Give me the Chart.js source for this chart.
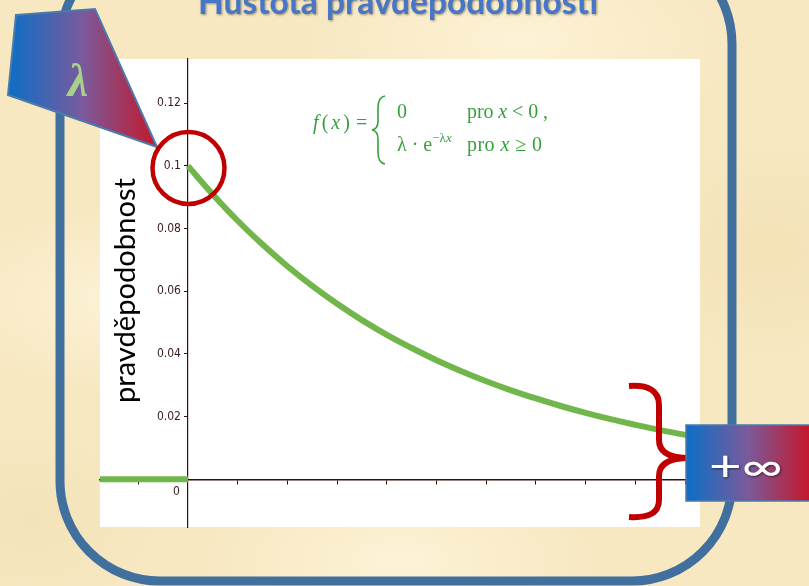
<!DOCTYPE html>
<html>
<head>
<meta charset="utf-8">
<script src="https://cdn.jsdelivr.net/npm/chart.js@4.4.1/dist/chart.umd.min.js"></script>
<style>
  html, body { margin: 0; padding: 0; }
  body {
    width: 809px; height: 586px; overflow: hidden; position: relative;
    background-color: #f7e8c2;
    background-image:
      radial-gradient(ellipse 180px 90px at 120px 300px, rgba(255,248,225,0.6), rgba(255,248,225,0)),
      radial-gradient(ellipse 220px 100px at 520px 40px, rgba(255,246,220,0.7), rgba(255,246,220,0)),
      radial-gradient(ellipse 200px 80px at 400px 560px, rgba(255,247,222,0.7), rgba(255,247,222,0)),
      radial-gradient(ellipse 160px 120px at 770px 250px, rgba(240,220,170,0.5), rgba(240,220,170,0)),
      radial-gradient(ellipse 150px 100px at 30px 520px, rgba(240,222,175,0.5), rgba(240,222,175,0));
  }
  svg, canvas { position: absolute; left: 0; top: 0; }
</style>
</head>
<body>
<svg width="809" height="586">
  <rect x="60" y="-56" width="672" height="637" rx="100" ry="100" fill="none" stroke="#41709e" stroke-width="9"/>
</svg>
<canvas id="graf" width="809" height="586"></canvas>
<svg width="809" height="586" font-family="Lato, 'Open Sans', sans-serif">
  <defs>
    <linearGradient id="lamGrad" gradientUnits="userSpaceOnUse" x1="8" y1="0" x2="157" y2="0">
      <stop offset="0" stop-color="#0b6fc6"/>
      <stop offset="0.5" stop-color="#7a5a9c"/>
      <stop offset="1" stop-color="#c4182b"/>
    </linearGradient>
    <linearGradient id="infGrad" gradientUnits="userSpaceOnUse" x1="686" y1="0" x2="809" y2="0">
      <stop offset="0" stop-color="#0b6fc6"/>
      <stop offset="0.5" stop-color="#7a5a9c"/>
      <stop offset="1" stop-color="#c4182b"/>
    </linearGradient>
  </defs>

  <!-- nadpis -->
  <text x="198" y="13.5" font-size="34" font-weight="700" fill="#4775c8" textLength="400" lengthAdjust="spacingAndGlyphs"
        style="filter: drop-shadow(1px 1px 1px rgba(0,0,0,0.4))">Hustota pravděpodobnosti</text>

  <!-- lambda -->
  <polygon points="16,15 95,9 157,147 8,95" fill="url(#lamGrad)" stroke="#4b7bab" stroke-width="2"/>
  <text x="78" y="96" font-size="46" font-family="'Liberation Serif', serif" font-weight="700" font-style="italic"
        fill="#a9d18e" text-anchor="middle">λ</text>
  <circle cx="188.5" cy="168" r="36" fill="none" stroke="#c00000" stroke-width="4.5"/>

  <!-- popisek osy y -->
  <text transform="translate(135,403) rotate(-90)" font-size="28" fill="#000" textLength="225" lengthAdjust="spacingAndGlyphs">pravděpodobnost</text>

  <!-- vzorec -->
  <g fill="#37a03c" font-family="'Liberation Serif', serif" font-size="20">
    <text x="313" y="129" textLength="37"><tspan font-style="italic">f</tspan>(<tspan font-style="italic">x</tspan>)</text>
    <text x="356" y="129">=</text>
    <path d="M385,96 Q378,97 378,108 L378,121 Q378,129 372,130 Q378,131 378,139 L378,152 Q378,163 385,164" fill="none" stroke="#37a03c" stroke-width="1.6"/>
    <text x="397" y="118">0</text>
    <text x="467" y="118" textLength="81">pro <tspan font-style="italic">x</tspan> &lt; 0 ,</text>
    <text x="397" y="151">λ · e<tspan font-size="13" dy="-9">−λ<tspan font-style="italic">x</tspan></tspan></text>
    <text x="467" y="151" textLength="75">pro <tspan font-style="italic">x</tspan> ≥ 0</text>
  </g>

  <!-- zavorka a nekonecno -->
  <path d="M629,386 Q659,384 659,405 L659,440 Q659,457 686,458 Q659,459 659,476 L659,500 Q659,519 629,517"
        fill="none" stroke="#c00000" stroke-width="6"/>
  <rect x="686" y="425" width="130" height="76" fill="url(#infGrad)" stroke="#4b7bab" stroke-width="1.5"/>
  <text x="709" y="481" font-size="42" fill="#fff" textLength="74" lengthAdjust="spacingAndGlyphs"
        style="filter: drop-shadow(1px 1px 1px rgba(0,0,0,0.5))">+∞</text>
</svg>

<script>
// hodnoty
const zapornaX = [-3.54, 0];
const zapornaY = [0, 0];
const hustotaX = [0, 1, 2, 3, 4, 5, 6, 7, 8, 9, 10, 11, 12, 13, 14, 15, 16, 17, 18, 19, 20, 20.6];
const hustotaY = [0.1000, 0.0909, 0.0825, 0.0749, 0.0680, 0.0617, 0.0560, 0.0508, 0.0461, 0.0419, 0.0380,
                  0.0345, 0.0313, 0.0284, 0.0258, 0.0234, 0.0212, 0.0192, 0.0174, 0.0157, 0.0142, 0.0134];
const yTickValues = [0.02, 0.04, 0.06, 0.08, 0.1, 0.12];
const yTickLabels = ['0.02', '0.04', '0.06', '0.08', '0.1', '0.12'];
const zeroLabel = '0';

const osa = '#3a0d0d';
const zelena = '#71b64a';
const pismoOsy = "'Liberation Sans Narrow', 'DejaVu Sans Condensed', sans-serif";

function body(xs, ys) {
  return xs.map((x, i) => ({x: x, y: ys[i]}));
}

const pozadi = {
  id: 'pozadi',
  beforeDraw(chart) {
    const a = chart.chartArea, c = chart.ctx;
    c.save();
    c.fillStyle = '#fff';
    c.fillRect(a.left, a.top, a.right - a.left, a.bottom - a.top);
    c.restore();
  },
  afterDraw(chart) {
    // popisky osy y vlevo od osy, nula posunuta pod osu x
    const c = chart.ctx;
    const sx = chart.scales.x, sy = chart.scales.y;
    const px = sx.getPixelForValue(0);
    c.save();
    c.font = '12px ' + pismoOsy;
    c.fillStyle = '#3a1a1a';
    c.textAlign = 'right';
    c.textBaseline = 'middle';
    sy.ticks.forEach(t => {
      const i = yTickValues.findIndex(v => Math.abs(v - t.value) < 1e-6);
      if (i >= 0) c.fillText(yTickLabels[i], px - 7, sy.getPixelForValue(t.value));
    });
    c.fillText(zeroLabel, px - 8, sy.getPixelForValue(0) + 13);
    c.restore();
  }
};

new Chart(document.getElementById('graf'), {
  type: 'scatter',
  data: {
    datasets: [
      { data: body(zapornaX, zapornaY), showLine: true, borderColor: zelena, borderWidth: 6, pointRadius: 0 },
      { data: body(hustotaX, hustotaY), showLine: true, borderColor: zelena, borderWidth: 6, pointRadius: 0,
        tension: 0.4 }
    ]
  },
  options: {
    responsive: false,
    devicePixelRatio: 1,
    animation: false,
    layout: { padding: { left: 100, top: 59, right: 109, bottom: 59 } },
    plugins: { legend: { display: false }, tooltip: { enabled: false } },
    scales: {
      x: {
        type: 'linear', position: { y: 0 }, min: -3.54, max: 20.6,
        grid: { drawOnChartArea: false, drawTicks: true, tickLength: 4, color: osa },
        border: { display: true, color: osa, width: 1.5 },
        ticks: { display: false, stepSize: 2, includeBounds: false }
      },
      y: {
        type: 'linear', position: { x: 0 }, min: -0.0152, max: 0.1341,
        grid: { drawOnChartArea: false, drawTicks: true, tickLength: 3, color: osa },
        border: { display: true, color: osa, width: 1.2 },
        ticks: { display: false, stepSize: 0.02, includeBounds: false }
      }
    }
  },
  plugins: [pozadi]
});
</script>
</body>
</html>
